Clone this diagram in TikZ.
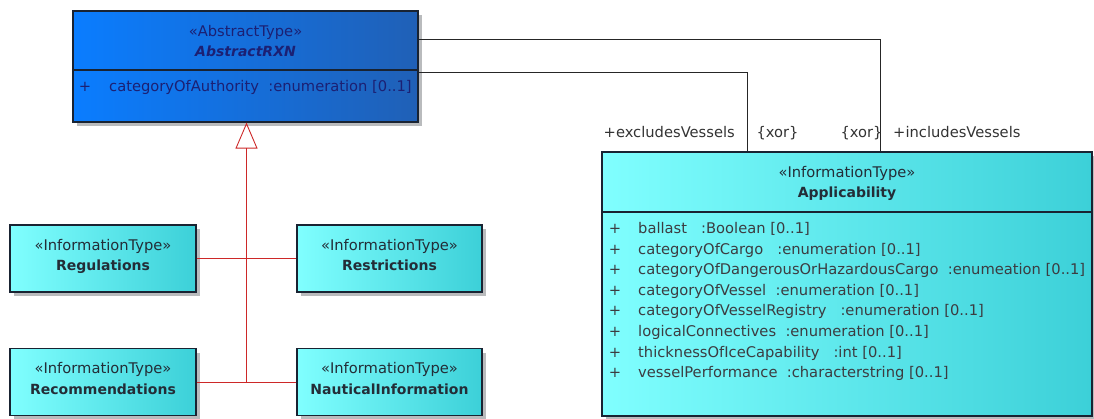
\documentclass[tikz,border=0pt]{standalone}
\usepackage{fontspec}
\setmainfont{DejaVu Sans}
\usetikzlibrary{shadows,arrows.meta,calc}

\definecolor{absL}{RGB}{10,125,255}
\definecolor{absR}{RGB}{32,96,182}
\definecolor{absInk}{RGB}{28,32,115}
\definecolor{cyL}{RGB}{128,255,255}
\definecolor{cyR}{RGB}{60,208,216}
\definecolor{ink}{RGB}{35,45,55}
\definecolor{attrInk}{RGB}{60,60,65}
\definecolor{edge}{RGB}{25,35,50}
\definecolor{genred}{RGB}{205,40,40}
\definecolor{shade}{RGB}{185,187,189}

\begin{document}
\begin{tikzpicture}[x=1pt,y=-1pt,
  font=\fontsize{14.7}{16}\selectfont,
  namefont/.style={font=\fontsize{14}{16}\selectfont\bfseries},
  classbox/.style={draw=edge, line width=1.1pt, inner sep=0pt,
    drop shadow={shadow xshift=4pt, shadow yshift=-4pt, fill=shade, opacity=1}},
  abstractbox/.style={classbox, left color=absL, right color=absR},
  infobox/.style={classbox, left color=cyL, right color=cyR},
  txt/.style={inner sep=0pt, text=ink, text height=0.72em, text depth=0.22em, yshift=-2pt},
  attr/.style={txt, text=attrInk, anchor=west},
  divider/.style={draw=edge, line width=1.1pt},
  assoc/.style={draw=black!85, line width=0.9pt},
  gen/.style={draw=genred, line width=0.9pt},
  rolelabel/.style={inner sep=0pt, text=black!80, anchor=base}
]
\useasboundingbox (0,0) rectangle (1094,419);

% abstract parent class
\node[abstractbox, minimum width=345pt, minimum height=111pt] (abs) at (245.5,66.5) {};
\draw[divider] (abs.west |- 0,70) -- (abs.east |- 0,70);
\node[txt, text=absInk] (absSt) at (245.5,32) {«AbstractType»};
\node[txt, text=absInk, font=\fontsize{14}{16}\selectfont\bfseries\itshape] (absName) at (245.5,52) {AbstractRXN};
\node[txt, text=absInk] (absPlus) at (85,87) {+};
\node[attr, text=absInk] (absAttr) at (109,87) {categoryOfAuthority\ \ :enumeration [0..1]};

% information types specialising the abstract class
\node[infobox, minimum width=186pt, minimum height=67pt] (reg) at (103,258.5) {};
\node[txt] (regSt) at (103,246) {«InformationType»};
\node[txt, namefont] (regName) at (103,266) {Regulations};

\node[infobox, minimum width=185pt, minimum height=67pt] (res) at (389.5,258.5) {};
\node[txt] (resSt) at (389.5,246) {«InformationType»};
\node[txt, namefont] (resName) at (389.5,266) {Restrictions};

\node[infobox, minimum width=186pt, minimum height=67pt] (rec) at (103,382) {};
\node[txt] (recSt) at (103,369) {«InformationType»};
\node[txt, namefont] (recName) at (103,390) {Recommendations};

\node[infobox, minimum width=185pt, minimum height=67pt] (nau) at (389.5,382) {};
\node[txt] (nauSt) at (389.5,369) {«InformationType»};
\node[txt, namefont] (nauName) at (389.5,390) {NauticalInformation};

% applicability class with attributes
\node[infobox, minimum width=490pt, minimum height=264pt] (app) at (847,284) {};
\draw[divider] (app.west |- 0,212) -- (app.east |- 0,212);
\node[txt] (appSt) at (847,173) {«InformationType»};
\node[txt, namefont] (appName) at (847,193) {Applicability};
\foreach \t [count=\i from 0] in {
  {ballast\ \ \ :Boolean [0..1]},
  {categoryOfCargo\ \ \ :enumeration [0..1]},
  {categoryOfDangerousOrHazardousCargo\ \ :enumeation [0..1]},
  {categoryOfVessel\ \ :enumeration [0..1]},
  {categoryOfVesselRegistry\ \ \ :enumeration [0..1]},
  {logicalConnectives\ \ :enumeration [0..1]},
  {thicknessOfIceCapability\ \ \ :int [0..1]},
  {vesselPerformance\ \ :characterstring [0..1]}} {
  \node[txt, text=attrInk] (appPlus\i) at (615,229+20.6*\i) {+};
  \node[attr] (appAttr\i) at (638,229+20.6*\i) {\t};
}

% generalisation tree
\coordinate (j1) at ($(reg.east)!0.5!(res.west)$);
\coordinate (j2) at ($(rec.east)!0.5!(nau.west)$);
\draw[gen] (reg.east) -- (res.west);
\draw[gen] (rec.east) -- (nau.west);
\draw[gen, -{Triangle[open, length=26pt, width=22pt, line width=0.9pt]}] (j2) -- (j2 |- abs.south);

% associations to applicability
\draw[assoc] ([yshift=-29pt]abs.north east) -| ([xshift=279pt]app.north west);
\draw[assoc] ([yshift=-62pt]abs.north east) -| ([xshift=146pt]app.north west);

% role names and constraints
\node[rolelabel, anchor=base east] (exRole) at (735,138) {+excludesVessels};
\node[rolelabel] (xorA) at (777.5,138) {\{xor\}};
\node[rolelabel] (xorB) at (861.5,138) {\{xor\}};
\node[rolelabel, anchor=base west] (inRole) at (893,138) {+includesVessels};
\end{tikzpicture}
\end{document}
